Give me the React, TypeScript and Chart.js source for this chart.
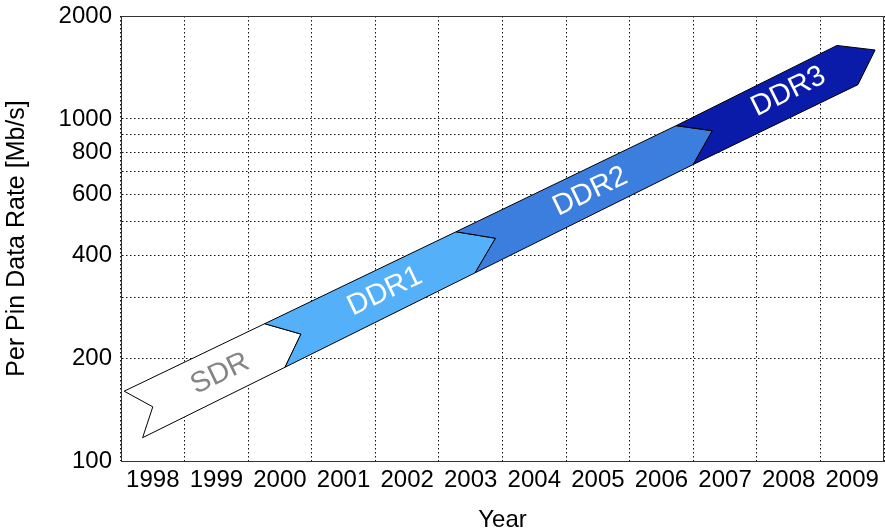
import { useEffect, useRef } from 'react';
import { Chart, registerables } from 'chart.js';

Chart.register(...registerables);

// Year axis: one label per year, grid lines between years
const YEARS = [1998, 1999, 2000, 2001, 2002, 2003, 2004, 2005, 2006, 2007, 2008, 2009];

// Per-pin rate axis (log): grid values and the subset that gets a label
const RATE_GRID = [100, 200, 300, 400, 500, 600, 700, 800, 900, 1000, 2000];
const RATE_LABELS = [100, 200, 400, 600, 800, 1000, 2000];

// Memory generations, each drawn as a notched arrow.
// Vertex order: tail top, tail notch, tail bottom, head bottom, head tip, head top.
const GENERATIONS = ['SDR', 'DDR1', 'DDR2', 'DDR3'];

const SDR_YEARS = [1997.55, 1998.0, 1997.84, 2000.08, 2000.33, 1999.76];
const SDR_RATES = [160, 144, 117, 188, 235, 252];

const DDR1_YEARS = [1999.76, 2000.33, 2000.08, 2003.07, 2003.39, 2002.77];
const DDR1_RATES = [252, 235, 188, 355, 448, 468];

const DDR2_YEARS = [2002.77, 2003.39, 2003.07, 2006.5, 2006.8, 2006.23];
const DDR2_RATES = [468, 448, 355, 736, 924, 956];

const DDR3_YEARS = [2006.23, 2006.8, 2006.5, 2009.09, 2009.36, 2008.76];
const DDR3_RATES = [956, 924, 736, 1260, 1591, 1640];

// Where each generation's name sits along its arrow
const LABEL_YEARS = [1999.06, 2001.65, 2004.88, 2008.0];
const LABEL_RATES = [180, 313, 613, 1202];

const ARROW_YEARS = [SDR_YEARS, DDR1_YEARS, DDR2_YEARS, DDR3_YEARS];
const ARROW_RATES = [SDR_RATES, DDR1_RATES, DDR2_RATES, DDR3_RATES];

const FILL_COLORS = ['#ffffff', '#54b0f8', '#3b7edd', '#0b1ba9'];
const TEXT_COLORS = ['#858585', '#ffffff', '#ffffff', '#ffffff'];

const FONT = '"Liberation Sans", Arial, Helvetica, sans-serif';

const arrowLabels = {
  id: 'arrowLabels',
  afterDatasetsDraw(chart: any) {
    const { ctx } = chart;
    const x = chart.scales.x;
    const y = chart.scales.y;
    GENERATIONS.forEach((name, i) => {
      const ys = ARROW_YEARS[i];
      const rs = ARROW_RATES[i];
      const angle = Math.atan2(
        y.getPixelForValue(rs[5]) - y.getPixelForValue(rs[0]),
        x.getPixelForValue(ys[5]) - x.getPixelForValue(ys[0])
      );
      ctx.save();
      ctx.translate(x.getPixelForValue(LABEL_YEARS[i]), y.getPixelForValue(LABEL_RATES[i]));
      ctx.rotate(angle);
      ctx.font = `29px ${FONT}`;
      ctx.fillStyle = TEXT_COLORS[i];
      ctx.textAlign = 'center';
      ctx.textBaseline = 'middle';
      ctx.fillText(name, 0, 0);
      ctx.restore();
    });
  },
};

// Closes the plot box on the top and right sides
const plotFrame = {
  id: 'plotFrame',
  afterDraw(chart: any) {
    const { ctx, chartArea: a } = chart;
    ctx.save();
    ctx.strokeStyle = '#333333';
    ctx.lineWidth = 1;
    ctx.beginPath();
    ctx.moveTo(Math.round(a.left) + 0.5, Math.round(a.top) + 0.5);
    ctx.lineTo(Math.round(a.right) - 0.5, Math.round(a.top) + 0.5);
    ctx.lineTo(Math.round(a.right) - 0.5, Math.round(a.bottom) + 0.5);
    ctx.stroke();
    ctx.restore();
  },
};

function arrowPoints(years: number[], rates: number[]) {
  const pts = years.map((v, i) => ({ x: v, y: rates[i] }));
  pts.push({ x: years[0], y: rates[0] });
  return pts;
}

export default function App() {
  const ref = useRef<HTMLCanvasElement>(null);

  useEffect(() => {
    const datasets = GENERATIONS.map((name, i) => ({
      label: name,
      data: arrowPoints(ARROW_YEARS[i], ARROW_RATES[i]),
      showLine: true,
      fill: 'shape',
      backgroundColor: FILL_COLORS[i],
      borderColor: '#000000',
      borderWidth: 1,
      borderJoinStyle: 'miter',
      pointRadius: 0,
      pointHoverRadius: 0,
      tension: 0,
      order: GENERATIONS.length - i,
    }));

    const chart = new Chart(ref.current as HTMLCanvasElement, {
      type: 'scatter',
      data: { datasets } as any,
      options: {
        animation: false,
        responsive: false,
        devicePixelRatio: 1,
        events: [],
        layout: { padding: { top: 16, right: 1, bottom: 0, left: 0 } },
        plugins: {
          legend: { display: false },
          tooltip: { enabled: false },
        },
        scales: {
          x: {
            type: 'linear',
            min: 1997.5,
            max: 2009.5,
            afterBuildTicks: (s: any) => {
              s.ticks = YEARS.map((v) => ({ value: v }));
            },
            afterFit: (s: any) => {
              s.height = 71;
            },
            ticks: {
              autoSkip: false,
              maxRotation: 0,
              padding: 5,
              color: '#000000',
              font: { family: FONT, size: 24 },
              callback: (v: any) => String(v),
            },
            grid: {
              offset: true,
              drawTicks: false,
              color: '#111111',
              lineWidth: 1,
            },
            border: { display: true, color: '#333333', width: 1, dash: [1.5, 2.5] },
            title: {
              display: true,
              text: 'Year',
              color: '#000000',
              font: { family: FONT, size: 24, lineHeight: 1 },
              padding: { top: 0, bottom: 0 },
            },
          },
          y: {
            type: 'logarithmic',
            min: 100,
            max: 2000,
            afterBuildTicks: (s: any) => {
              s.ticks = RATE_GRID.map((v) => ({ value: v }));
            },
            afterFit: (s: any) => {
              s.width = 121;
            },
            ticks: {
              autoSkip: false,
              padding: 9,
              color: '#000000',
              font: { family: FONT, size: 24, lineHeight: 0.5 },
              callback: (v: any) => (RATE_LABELS.includes(Number(v)) ? String(v) : ''),
            },
            grid: {
              drawTicks: false,
              color: '#111111',
              lineWidth: 1,
            },
            border: { display: true, color: '#333333', width: 1, dash: [1.5, 2.5] },
            title: {
              display: true,
              text: 'Per Pin Data Rate [Mb/s]',
              color: '#000000',
              font: { family: FONT, size: 25 },
              padding: { top: 2, bottom: 0 },
            },
          },
        },
      } as any,
      plugins: [arrowLabels, plotFrame],
    });

    return () => chart.destroy();
  }, []);

  return (
    <div style={{ position: 'absolute', left: 0, top: 0, width: 885, height: 532 }}>
      <canvas ref={ref} width={885} height={532} style={{ display: 'block' }} />
    </div>
  );
}
